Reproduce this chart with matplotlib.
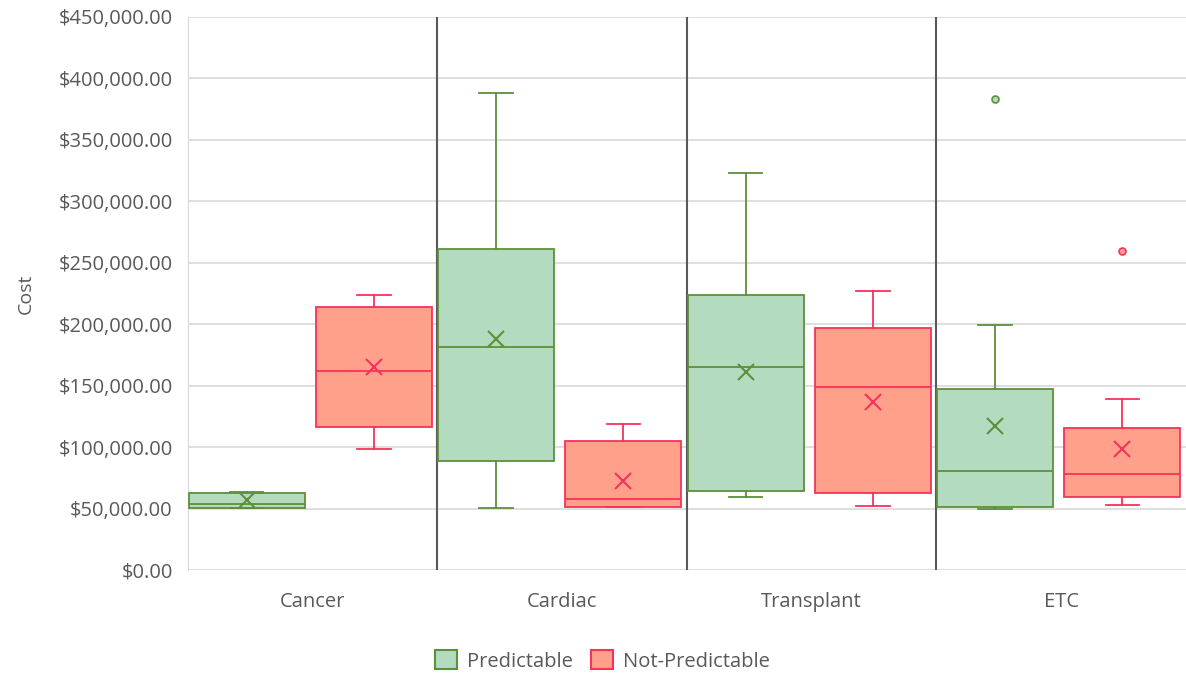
import matplotlib
matplotlib.use("Agg")
from matplotlib import pyplot as plt
from matplotlib.patches import Patch
from matplotlib.ticker import StrMethodFormatter

plt.rcParams["font.family"] = ["Open Sans", "DejaVu Sans"]

categories = ["Cancer", "Cardiac", "Transplant", "ETC"]
series = ["Predictable", "Not-Predictable"]

# values, one entry per category
pred_whislo = [50700, 50500, 59200, 49600]
pred_q1 = [50700, 88700, 64000, 51000]
pred_med = [53700, 181500, 165000, 80300]
pred_q3 = [62400, 261200, 223500, 147000]
pred_whishi = [63700, 388200, 323000, 199100]
pred_mean = [57000, 188000, 161400, 117200]
pred_fliers = [[], [], [], [383300]]

notp_whislo = [98200, 51300, 52300, 52600]
notp_q1 = [116100, 51300, 62400, 59700]
notp_med = [161900, 57800, 148700, 78400]
notp_q3 = [213800, 105000, 197200, 115800]
notp_whishi = [223500, 118800, 227000, 138900]
notp_mean = [165000, 72400, 137000, 98200]
notp_fliers = [[], [], [], [259600]]

styles = {
    "Predictable": dict(face="#b3dbbf", edge="#5e8f3a"),
    "Not-Predictable": dict(face="#ffa08a", edge="#f7325d"),
}


def stats_for(whislo, q1, med, q3, whishi, mean, fliers):
    return [dict(whislo=a, q1=b, med=c, q3=d, whishi=e, mean=f, fliers=g)
            for a, b, c, d, e, f, g in zip(whislo, q1, med, q3, whishi, mean, fliers)]


fig = plt.figure(figsize=(11.86, 6.73), dpi=100)
ax = fig.add_axes([0.1585, 0.153, 0.8415, 0.822])

data = {
    "Predictable": stats_for(pred_whislo, pred_q1, pred_med, pred_q3, pred_whishi, pred_mean, pred_fliers),
    "Not-Predictable": stats_for(notp_whislo, notp_q1, notp_med, notp_q3, notp_whishi, notp_mean, notp_fliers),
}
offsets = {"Predictable": -0.265, "Not-Predictable": 0.245}

for name in series:
    st = styles[name]
    pos = [i + offsets[name] for i in range(len(categories))]
    ax.bxp(data[name], positions=pos, widths=0.465, capwidths=0.135,
           patch_artist=True, showmeans=True, manage_ticks=False,
           boxprops=dict(facecolor=st["face"], edgecolor=st["edge"], linewidth=1.3),
           medianprops=dict(color=st["edge"], linewidth=1.3),
           whiskerprops=dict(color=st["edge"], linewidth=1.3),
           capprops=dict(color=st["edge"], linewidth=1.3),
           meanprops=dict(marker="x", markeredgecolor=st["edge"], markersize=11, markeredgewidth=1.5),
           flierprops=dict(marker="o", markerfacecolor=st["face"], markeredgecolor=st["edge"],
                           markersize=5, markeredgewidth=1.2),
           zorder=3)

for i in range(1, len(categories)):
    ax.axvline(i - 0.5, color="#595959", lw=1.5, zorder=2)

ax.set_xlim(-0.5, len(categories) - 0.5)
ax.set_ylim(0, 450000)
ax.set_yticks(range(0, 450001, 50000))
ax.yaxis.set_major_formatter(StrMethodFormatter("${x:,.2f}"))
ax.set_xticks(range(len(categories)))
ax.set_xticklabels(categories)
ax.grid(axis="y", color="#d9d9d9", lw=1.2, zorder=0)
ax.set_axisbelow(True)
ax.tick_params(length=0, labelsize=14.5, colors="#595959", pad=11)
ax.tick_params(axis="x", pad=16)
for side in ["top", "right", "bottom"]:
    ax.spines[side].set_visible(False)
ax.spines["left"].set_color("#d9d9d9")
ax.set_ylabel("Cost", color="#595959", fontsize=14, labelpad=17)

handles = [Patch(facecolor=styles[n]["face"], edgecolor=styles[n]["edge"], lw=1.5, label=n) for n in series]
fig.legend(handles=handles, loc="center", bbox_to_anchor=(0.508, 0.018), ncol=2, frameon=False,
           fontsize=14.5, labelcolor="#595959", handlelength=1.1, handleheight=1.1, columnspacing=0.9,
           handletextpad=0.5)

fig.savefig("out.png", dpi=100)
